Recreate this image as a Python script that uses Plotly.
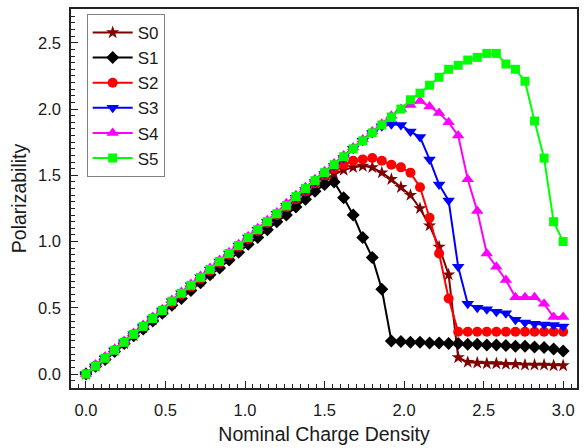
import plotly.graph_objects as go

x = [0.00, 0.06, 0.12, 0.18, 0.24, 0.30, 0.36, 0.42, 0.48, 0.54,
     0.60, 0.66, 0.72, 0.78, 0.84, 0.90, 0.96, 1.02, 1.08, 1.14,
     1.20, 1.26, 1.32, 1.38, 1.44, 1.50, 1.56, 1.62, 1.68, 1.74,
     1.80, 1.86, 1.92, 1.98, 2.04, 2.10, 2.16, 2.22, 2.28, 2.34,
     2.40, 2.46, 2.52, 2.58, 2.64, 2.70, 2.76, 2.82, 2.88, 2.94, 3.00]

S0 = [0.00, 0.06, 0.12, 0.18, 0.23, 0.29, 0.35, 0.41, 0.47, 0.53,
      0.59, 0.65, 0.70, 0.76, 0.82, 0.88, 0.94, 1.00, 1.06, 1.11,
      1.17, 1.23, 1.29, 1.35, 1.41, 1.46, 1.51, 1.54, 1.56, 1.57,
      1.56, 1.52, 1.47, 1.41, 1.35, 1.25, 1.12, 0.96, 0.75, 0.125,
      0.09, 0.085, 0.08, 0.08, 0.075, 0.075, 0.07, 0.07, 0.07, 0.065, 0.065]

S1 = [0.00, 0.06, 0.11, 0.17, 0.23, 0.29, 0.34, 0.40, 0.46, 0.52,
      0.57, 0.63, 0.69, 0.75, 0.80, 0.86, 0.92, 0.98, 1.03, 1.09,
      1.15, 1.20, 1.26, 1.32, 1.38, 1.43, 1.45, 1.33, 1.20, 1.03,
      0.88, 0.64, 0.25, 0.245, 0.24, 0.24, 0.235, 0.235, 0.23, 0.23,
      0.225, 0.225, 0.22, 0.22, 0.215, 0.21, 0.21, 0.205, 0.20, 0.19, 0.175]

S2 = [0.00, 0.06, 0.12, 0.18, 0.24, 0.30, 0.36, 0.42, 0.48, 0.54,
      0.60, 0.66, 0.72, 0.78, 0.84, 0.90, 0.96, 1.02, 1.08, 1.14,
      1.20, 1.26, 1.32, 1.38, 1.44, 1.50, 1.55, 1.58, 1.61, 1.62,
      1.63, 1.61, 1.58, 1.56, 1.52, 1.41, 1.18, 0.91, 0.57, 0.32,
      0.32, 0.32, 0.32, 0.32, 0.32, 0.32, 0.32, 0.32, 0.32, 0.32, 0.32]

S3 = [0.00, 0.06, 0.12, 0.18, 0.24, 0.30, 0.36, 0.42, 0.48, 0.55,
      0.61, 0.67, 0.73, 0.79, 0.85, 0.91, 0.97, 1.03, 1.09, 1.15,
      1.21, 1.27, 1.33, 1.39, 1.45, 1.51, 1.57, 1.63, 1.70, 1.76,
      1.82, 1.87, 1.885, 1.88, 1.83, 1.79, 1.62, 1.43, 1.31, 0.81,
      0.53, 0.50, 0.49, 0.47, 0.46, 0.41, 0.39, 0.38, 0.375, 0.37, 0.36]

S4 = [0.00, 0.07, 0.13, 0.19, 0.25, 0.31, 0.37, 0.43, 0.49, 0.56,
      0.62, 0.68, 0.74, 0.80, 0.86, 0.92, 0.98, 1.04, 1.10, 1.16,
      1.22, 1.29, 1.35, 1.41, 1.47, 1.53, 1.59, 1.65, 1.71, 1.77,
      1.83, 1.89, 1.95, 2.00, 2.03, 2.06, 2.02, 1.97, 1.90, 1.80,
      1.47, 1.23, 0.91, 0.81, 0.71, 0.58, 0.58, 0.58, 0.53, 0.43, 0.43]

S5 = [0.00, 0.06, 0.12, 0.18, 0.24, 0.30, 0.36, 0.42, 0.48, 0.55,
      0.61, 0.67, 0.73, 0.79, 0.85, 0.91, 0.97, 1.03, 1.09, 1.15,
      1.21, 1.27, 1.34, 1.40, 1.46, 1.52, 1.58, 1.64, 1.70, 1.76,
      1.82, 1.88, 1.94, 2.00, 2.07, 2.12, 2.18, 2.24, 2.30, 2.33,
      2.37, 2.39, 2.42, 2.42, 2.34, 2.30, 2.21, 1.91, 1.63, 1.15, 1.00]

names = ["S0", "S1", "S2", "S3", "S4", "S5"]
series = [S0, S1, S2, S3, S4, S5]
colors = ["#800000", "#000000", "#FF0000", "#0000FF", "#FF00FF", "#00FF00"]
symbols = ["star", "diamond", "circle", "triangle-down", "triangle-up", "square"]
sizes = [10, 10, 10, 11, 11, 9]

fig = go.Figure()
for n, s, c, sym, sz in zip(names, series, colors, symbols, sizes):
    fig.add_trace(go.Scatter(
        x=x, y=s, name=n, mode="lines+markers",
        line=dict(color=c, width=2),
        marker=dict(symbol=sym, size=sz, color=c, line=dict(width=0)),
    ))

font = "Liberation Sans, Arial, sans-serif"
axis_common = dict(
    showline=True, linecolor="#222222", linewidth=1.5, mirror=True,
    ticks="inside", ticklen=7, tickwidth=1.2, tickcolor="#222222",
    showgrid=False, zeroline=False,
    tickfont=dict(family=font, size=16.5, color="#1a1a1a"),
    dtick=0.5, tick0=0,
    minor=dict(ticks="inside", ticklen=4, tickwidth=1, tickcolor="#222222", dtick=0.05, showgrid=False),
)

fig.update_layout(
    width=585, height=448,
    margin=dict(l=71, r=6, t=9, b=58),
    paper_bgcolor="white", plot_bgcolor="white",
    font=dict(family=font, color="#1a1a1a"),
    xaxis=dict(range=[-0.094, 3.087], tickformat=".1f", ticklabelstandoff=6,
               title=dict(text="Nominal Charge Density", font=dict(family=font, size=19.5), standoff=10),
               **axis_common),
    yaxis=dict(range=[-0.105, 2.755], tickformat=".1f", ticklabelstandoff=5,
               title=dict(text="Polarizability", font=dict(family=font, size=19.5), standoff=6),
               **axis_common),
    legend=dict(x=0.031, y=0.987, xanchor="left", yanchor="top",
                bordercolor="#808080", borderwidth=1, bgcolor="white",
                font=dict(family=font, size=17, color="#1a1a1a"),
                tracegroupgap=0, itemwidth=40),
    showlegend=True,
)

fig.write_html("out.html")
